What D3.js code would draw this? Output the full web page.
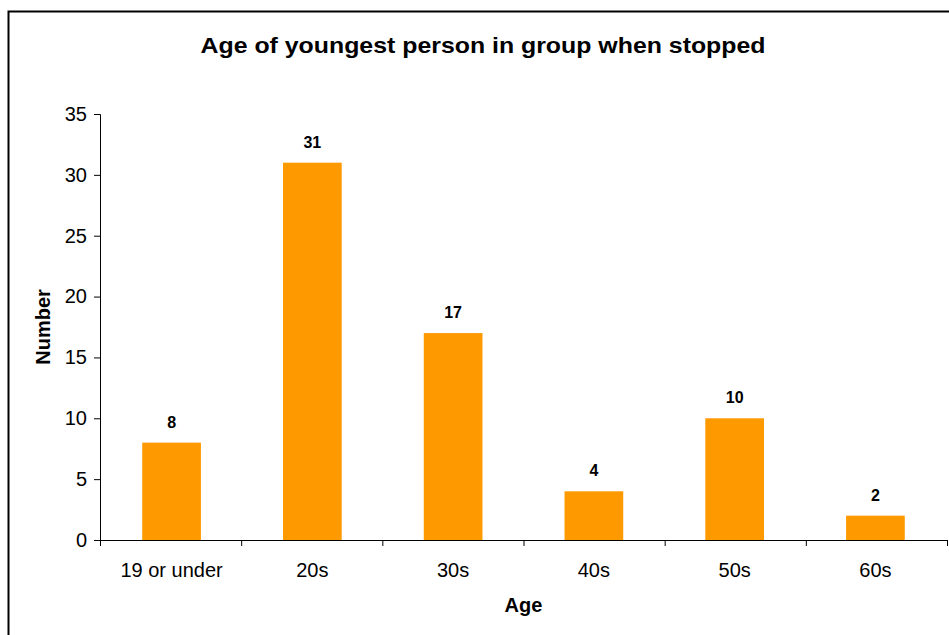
<!DOCTYPE html>
<html>
<head>
<meta charset="utf-8">
<script src="https://cdn.jsdelivr.net/npm/d3@7"></script>
<style>
  body { margin: 0; background: #fff; }
  svg { display: block; font-family: "Liberation Sans", Arial, sans-serif; }
</style>
</head>
<body>
<div id="chart"></div>
<script>
// data
var categories = ["19 or under", "20s", "30s", "40s", "50s", "60s"];
var counts = [8, 31, 17, 4, 10, 2];
var yTicks = [0, 5, 10, 15, 20, 25, 30, 35];

var W = 949, H = 635;
var margin = { top: 114, right: 2, bottom: 95, left: 100 },
    width = W - margin.left - margin.right,
    height = H - margin.top - margin.bottom;

var svg = d3.select("#chart").append("svg")
    .attr("width", W)
    .attr("height", H);

// outer chart border
svg.append("rect")
    .attr("x", 8.5).attr("y", 11.5)
    .attr("width", W + 20).attr("height", H + 20)
    .attr("fill", "none").attr("stroke", "#000").attr("stroke-width", 2);

var g = svg.append("g")
    .attr("transform", "translate(" + margin.left + "," + margin.top + ")");

var x = d3.scaleBand()
    .domain(categories)
    .range([0, width])
    .paddingInner(0.583)
    .paddingOuter(0.3);

var y = d3.scaleLinear()
    .domain([0, 35])
    .range([height, 0]);

// bars
g.selectAll(".bar")
    .data(counts)
    .enter().append("rect")
    .attr("class", "bar")
    .attr("x", function (d, i) { return x(categories[i]); })
    .attr("y", function (d) { return y(d); })
    .attr("width", x.bandwidth())
    .attr("height", function (d) { return height - y(d); })
    .attr("fill", "#ff9900");

// value labels
g.selectAll(".val")
    .data(counts)
    .enter().append("text")
    .attr("class", "val")
    .attr("x", function (d, i) { return x(categories[i]) + x.bandwidth() / 2; })
    .attr("y", function (d) { return y(d) - 15; })
    .attr("text-anchor", "middle")
    .style("font-size", "16px")
    .style("font-weight", "bold")
    .text(function (d) { return d; });

// y axis
var yAxis = g.append("g")
    .call(d3.axisLeft(y).tickValues(yTicks).tickSize(6).tickPadding(7));
yAxis.selectAll("text").style("font-size", "20px").attr("fill", "#000");
yAxis.selectAll("line, path").attr("stroke", "#000");

// x axis: ticks between categories
var xb = d3.scaleLinear().domain([0, categories.length]).range([0, width]);
var xAxis = g.append("g")
    .attr("transform", "translate(0," + height + ")")
    .call(d3.axisBottom(xb).ticks(categories.length).tickSize(6).tickFormat(""));
xAxis.selectAll("line, path").attr("stroke", "#000");

g.selectAll(".cat")
    .data(categories)
    .enter().append("text")
    .attr("class", "cat")
    .attr("x", function (d) { return x(d) + x.bandwidth() / 2; })
    .attr("y", height + 37)
    .attr("text-anchor", "middle")
    .style("font-size", "20px")
    .text(function (d) { return d; });

// title and axis titles
svg.append("text")
    .attr("x", 483).attr("y", 53)
    .attr("text-anchor", "middle")
    .attr("textLength", 565)
    .attr("lengthAdjust", "spacingAndGlyphs")
    .style("font-size", "22px").style("font-weight", "bold")
    .text("Age of youngest person in group when stopped");

svg.append("text")
    .attr("x", margin.left + width / 2).attr("y", 612)
    .attr("text-anchor", "middle")
    .style("font-size", "20px").style("font-weight", "bold")
    .text("Age");

svg.append("text")
    .attr("transform", "translate(50," + (margin.top + height / 2) + ") rotate(-90)")
    .attr("text-anchor", "middle")
    .style("font-size", "20px").style("font-weight", "bold")
    .text("Number");
</script>
</body>
</html>
